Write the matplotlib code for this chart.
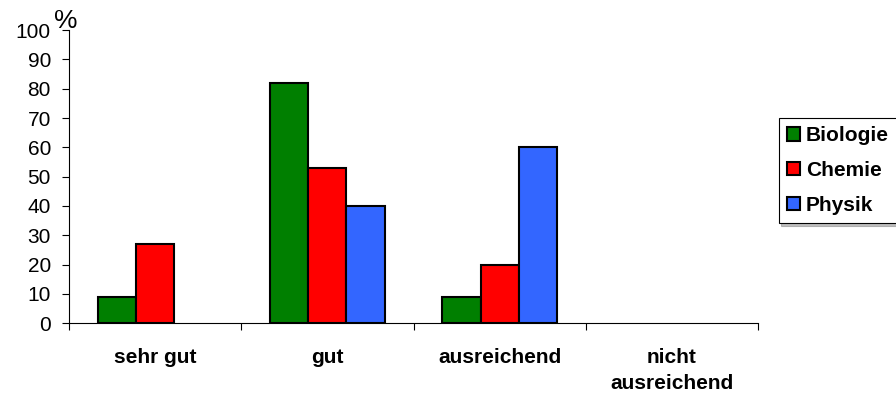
import matplotlib.pyplot as plt
import numpy as np

# Data
categories = ['sehr gut', 'gut', 'ausreichend', 'nicht\nausreichend']
biologie = [9, 82, 9, 0]
chemie = [27, 53, 20, 0]
physik = [0, 40, 60, 0]
series = ['Biologie', 'Chemie', 'Physik']
colors = ['#007F00', '#FF0000', '#3366FF']

plt.rcParams['font.family'] = ['Liberation Sans', 'DejaVu Sans']

fig = plt.figure(figsize=(8.96, 3.96), dpi=100)
ax = fig.add_axes([0.077, 0.184, 0.769, 0.74])

centers = np.arange(len(categories)) + 0.5
width = 0.222
for i, (name, vals, col) in enumerate(zip(series, [biologie, chemie, physik], colors)):
    lw = [1.5 if v > 0 else 0 for v in vals]
    ax.bar(centers + (i - 1) * width, vals, width, color=col, edgecolor='black',
           linewidth=lw, label=name, zorder=3)

ax.set_xlim(0, len(categories))
ax.set_ylim(0, 100)
ax.set_yticks(range(0, 101, 10))
ax.tick_params(axis='y', labelsize=15, length=5, width=0.8, pad=8)

# boundaries as major ticks, category names on minor ticks
ax.set_xticks(np.arange(len(categories) + 1))
ax.set_xticklabels([])
ax.set_xticks(centers, minor=True)
ax.set_xticklabels(categories, minor=True, fontsize=15, fontweight='bold',
                   linespacing=1.45)
ax.tick_params(axis='x', which='major', length=5, width=0.8)
ax.tick_params(axis='x', which='minor', length=0, pad=18)

for s in ['top', 'right']:
    ax.spines[s].set_visible(False)
for s in ['left', 'bottom']:
    ax.spines[s].set_linewidth(0.8)

ax.annotate('%', xy=(0, 1), xycoords='axes fraction', xytext=(-2, -2),
            textcoords='offset points', fontsize=19, ha='center', va='bottom')

leg = ax.legend(loc='upper left', bbox_to_anchor=(0.869, 0.702),
                bbox_transform=fig.transFigure, prop={'size': 15, 'weight': 'bold'},
                frameon=True, fancybox=False, shadow={'color': '0.5'},
                handlelength=0.62, handleheight=0.62, handletextpad=0.3,
                labelspacing=0.75, borderpad=0.4, borderaxespad=0)
leg.get_frame().set_edgecolor('black')
leg.get_frame().set_linewidth(0.8)
for h in leg.legend_handles:
    h.set_edgecolor('black')
    h.set_linewidth(1.5)

fig.savefig('out.png', dpi=100)
